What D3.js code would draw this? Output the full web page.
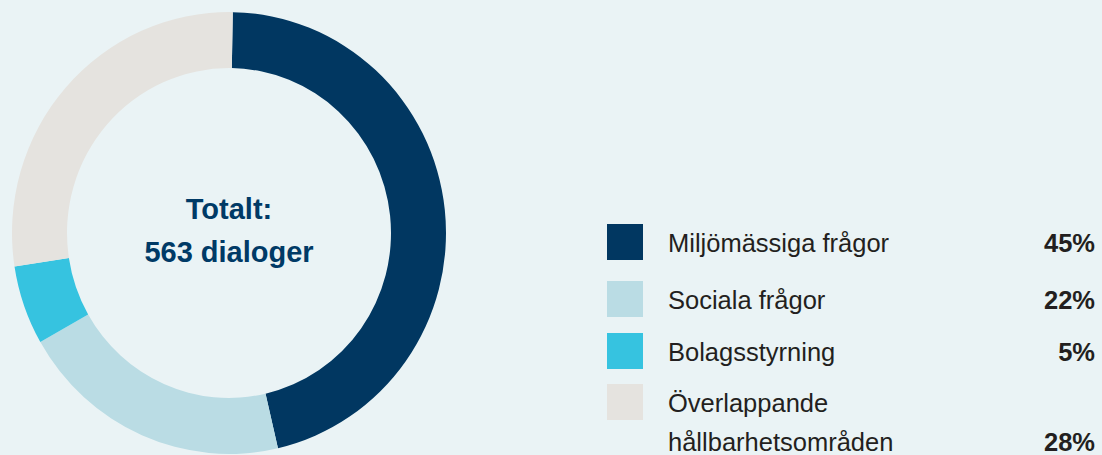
<!DOCTYPE html>
<html>
<head>
<meta charset="utf-8">
<script src="https://cdn.jsdelivr.net/npm/d3@7"></script>
<style>
  html, body { margin: 0; padding: 0; background: #eaf3f5; }
  svg { display: block; font-family: "Liberation Sans", Arial, Helvetica, sans-serif; }
</style>
</head>
<body>
<div id="chart"></div>
<script>
// Width and height
var w = 1102;
var h = 455;

// categories and values
var categories = ["Miljömässiga frågor", "Sociala frågor", "Bolagsstyrning", "Överlappande hållbarhetsområden"];
var labelLines = [["Miljömässiga frågor"], ["Sociala frågor"], ["Bolagsstyrning"], ["Överlappande", "hållbarhetsområden"]];
var percentLabels = ["45%", "22%", "5%", "28%"];
// share of the ring each slice takes, as drawn in the picture
var arcShares = [46.1, 20.4, 5.8, 27.7];
var colorRange = ["#013761", "#badce4", "#36c3e0", "#e5e3df"];
var centerLines = ["Totalt:", "563 dialoger"];

var color = d3.scaleOrdinal().domain(categories).range(colorRange);

var svg = d3.select("#chart")
  .append("svg")
  .attr("width", w)
  .attr("height", h);

// donut (the picture is a touch taller than wide)
var cx = 229, cy = 233;
var start = 1 * Math.PI / 180;

var pie = d3.pie()
  .sort(null)
  .startAngle(start)
  .endAngle(start + 2 * Math.PI)
  .value(function(d) { return d.v; });

var arc = d3.arc()
  .innerRadius(162)
  .outerRadius(217);

var data = categories.map(function(c, i) { return { name: c, v: arcShares[i] }; });

var donut = svg.append("g")
  .attr("transform", "translate(" + cx + "," + cy + ") scale(1,1.018)");

donut.selectAll("path")
  .data(pie(data))
  .enter()
  .append("path")
  .attr("d", arc)
  .attr("fill", function(d) { return color(d.data.name); });

// center text
svg.selectAll(".center")
  .data(centerLines)
  .enter()
  .append("text")
  .attr("class", "center")
  .attr("x", cx)
  .attr("y", function(d, i) { return 219 + i * 43; })
  .attr("text-anchor", "middle")
  .style("font-size", "29px")
  .style("font-weight", "bold")
  .style("fill", "#003a66")
  .text(function(d) { return d; });

// legend
var rowTop = [224, 281, 333, 384];

var legend = svg.selectAll(".legend")
  .data(categories)
  .enter()
  .append("g")
  .attr("class", "legend")
  .attr("transform", function(d, i) { return "translate(0," + rowTop[i] + ")"; });

legend.append("rect")
  .attr("x", 607)
  .attr("y", 0)
  .attr("width", 36)
  .attr("height", 36)
  .attr("fill", function(d) { return color(d); });

legend.each(function(d, i) {
  var g = d3.select(this);
  labelLines[i].forEach(function(line, j) {
    g.append("text")
      .attr("x", 668)
      .attr("y", 28 + j * 39)
      .style("font-size", "25.5px")
      .style("fill", "#231f20")
      .text(line);
  });
  g.append("text")
    .attr("x", 1095)
    .attr("y", 28 + (labelLines[i].length - 1) * 39)
    .attr("text-anchor", "end")
    .style("font-size", "25.5px")
    .style("font-weight", "bold")
    .style("fill", "#231f20")
    .text(percentLabels[i]);
});
</script>
</body>
</html>
